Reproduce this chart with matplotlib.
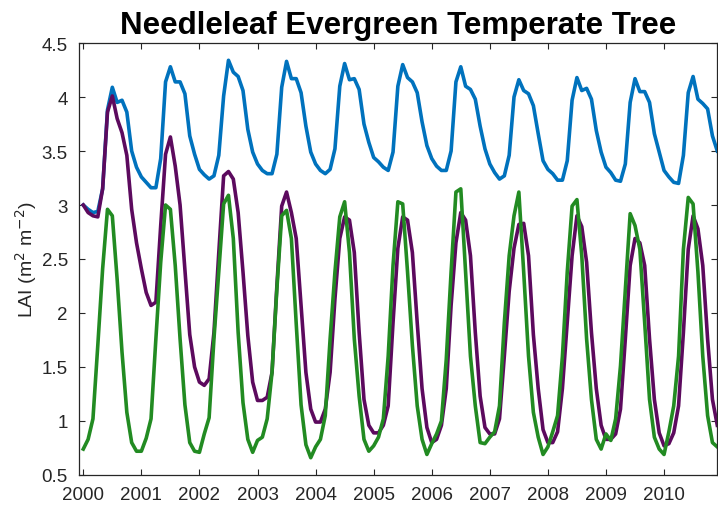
import numpy as np
import matplotlib.pyplot as plt

plt.rcParams['font.family'] = ['Liberation Sans', 'DejaVu Sans']

# monthly LAI, Jan 2000 - Dec 2010
lai_blue = [3.00, 2.96, 2.93, 2.94, 3.15, 3.88, 4.09, 3.95, 3.97, 3.86, 3.50, 3.35,
            3.26, 3.21, 3.16, 3.16, 3.43, 4.14, 4.28, 4.14, 4.14, 4.03, 3.64, 3.47,
            3.33, 3.28, 3.24, 3.27, 3.46, 4.01, 4.34, 4.23, 4.19, 4.06, 3.70, 3.49,
            3.38, 3.32, 3.29, 3.29, 3.47, 4.09, 4.33, 4.17, 4.17, 4.04, 3.73, 3.49,
            3.38, 3.32, 3.29, 3.33, 3.52, 4.10, 4.31, 4.16, 4.17, 4.07, 3.75, 3.58,
            3.44, 3.40, 3.35, 3.32, 3.49, 4.10, 4.30, 4.18, 4.14, 4.04, 3.77, 3.55,
            3.43, 3.36, 3.32, 3.32, 3.50, 4.14, 4.28, 4.10, 4.07, 3.98, 3.73, 3.52,
            3.38, 3.30, 3.24, 3.27, 3.46, 4.00, 4.16, 4.06, 4.03, 3.92, 3.66, 3.41,
            3.33, 3.29, 3.23, 3.23, 3.41, 3.97, 4.18, 4.06, 4.08, 3.98, 3.69, 3.49,
            3.35, 3.30, 3.23, 3.22, 3.38, 3.95, 4.17, 4.05, 4.05, 3.95, 3.66, 3.49,
            3.32, 3.26, 3.21, 3.20, 3.46, 4.04, 4.19, 3.98, 3.94, 3.89, 3.64, 3.50]

lai_purple = [3.00, 2.93, 2.90, 2.89, 3.15, 3.86, 4.01, 3.80, 3.67, 3.46, 2.96, 2.65,
              2.41, 2.19, 2.07, 2.10, 2.81, 3.47, 3.63, 3.36, 3.00, 2.40, 1.80, 1.50,
              1.36, 1.33, 1.39, 1.82, 2.56, 3.27, 3.31, 3.24, 2.93, 2.38, 1.79, 1.36,
              1.19, 1.19, 1.22, 1.45, 2.25, 2.99, 3.12, 2.93, 2.69, 2.07, 1.45, 1.11,
              0.99, 0.99, 1.11, 1.45, 2.13, 2.69, 2.89, 2.86, 2.56, 1.82, 1.20, 0.96,
              0.89, 0.89, 0.96, 1.14, 1.91, 2.60, 2.89, 2.86, 2.56, 1.91, 1.30, 0.94,
              0.80, 0.83, 0.96, 1.30, 2.07, 2.65, 2.93, 2.86, 2.53, 1.82, 1.23, 0.94,
              0.88, 0.88, 1.02, 1.60, 2.20, 2.60, 2.82, 2.83, 2.53, 1.80, 1.30, 0.92,
              0.80, 0.80, 0.90, 1.30, 1.92, 2.53, 2.90, 2.80, 2.47, 1.82, 1.30, 0.96,
              0.83, 0.83, 0.88, 1.11, 1.76, 2.44, 2.69, 2.65, 2.44, 1.76, 1.20, 0.89,
              0.77, 0.79, 0.89, 1.14, 1.82, 2.59, 2.90, 2.78, 2.44, 1.76, 1.20, 0.96]

lai_green = [0.74, 0.83, 1.02, 1.70, 2.41, 2.96, 2.90, 2.31, 1.64, 1.08, 0.80, 0.72,
             0.72, 0.84, 1.02, 1.76, 2.47, 3.00, 2.96, 2.44, 1.76, 1.15, 0.80, 0.72,
             0.71, 0.88, 1.03, 1.76, 2.38, 3.01, 3.09, 2.69, 1.82, 1.17, 0.83, 0.71,
             0.82, 0.85, 1.02, 1.45, 2.22, 2.90, 2.95, 2.69, 1.90, 1.15, 0.78, 0.66,
             0.76, 0.83, 1.05, 1.76, 2.38, 2.89, 3.03, 2.56, 1.76, 1.23, 0.83, 0.72,
             0.77, 0.85, 1.02, 1.60, 2.44, 3.03, 3.01, 2.38, 1.70, 1.14, 0.83, 0.69,
             0.79, 0.88, 1.00, 1.57, 2.38, 3.12, 3.15, 2.38, 1.60, 1.14, 0.80, 0.79,
             0.85, 0.90, 1.14, 1.91, 2.53, 2.90, 3.12, 2.38, 1.60, 1.08, 0.85, 0.69,
             0.76, 0.90, 1.05, 1.60, 2.38, 2.99, 3.05, 2.53, 1.76, 1.20, 0.83, 0.74,
             0.88, 0.82, 1.02, 1.51, 2.22, 2.92, 2.81, 2.59, 1.91, 1.20, 0.85, 0.74,
             0.69, 0.90, 1.14, 1.60, 2.59, 3.07, 3.01, 2.38, 1.60, 1.05, 0.80, 0.76]

t = 2000 + np.arange(len(lai_blue)) / 12.0
years = list(range(2000, 2011))
yticks = [0.5, 1, 1.5, 2, 2.5, 3, 3.5, 4, 4.5]
ytick_labels = ['0.5', '1', '1.5', '2', '2.5', '3', '3.5', '4', '4.5']

fig = plt.figure(figsize=(7.18, 5.10), dpi=100)
ax = fig.add_axes([0.110, 0.0667, 0.889, 0.847])

lw = 2.6
ax.plot(t, lai_blue, color='#0072BD', lw=lw)
ax.plot(t, lai_purple, color='#5C0A5E', lw=lw)
ax.plot(t, lai_green, color='#228B22', lw=lw)

ax.set_xlim(1999.926, t[-1])
ax.set_ylim(0.5, 4.5)
ax.set_xticks(years)
ax.set_xticklabels([str(y) for y in years])
ax.set_yticks(yticks)
ax.set_yticklabels(ytick_labels)

axc = '#262626'
for sp in ax.spines.values():
    sp.set_color(axc)
    sp.set_linewidth(0.9)
ax.tick_params(direction='in', length=4.5, width=0.8, color=axc,
               labelcolor=axc, labelsize=13.5, top=True, right=True)
ax.tick_params(axis='x', pad=8)
ax.tick_params(axis='y', pad=8)

ax.set_ylabel('LAI (m$^2$ m$^{-2}$)', fontsize=14, color=axc, labelpad=2)
ax.set_title('Needleleaf Evergreen Temperate Tree', fontsize=22.5,
             fontweight='bold', pad=7)

fig.savefig('out.png', dpi=100)
